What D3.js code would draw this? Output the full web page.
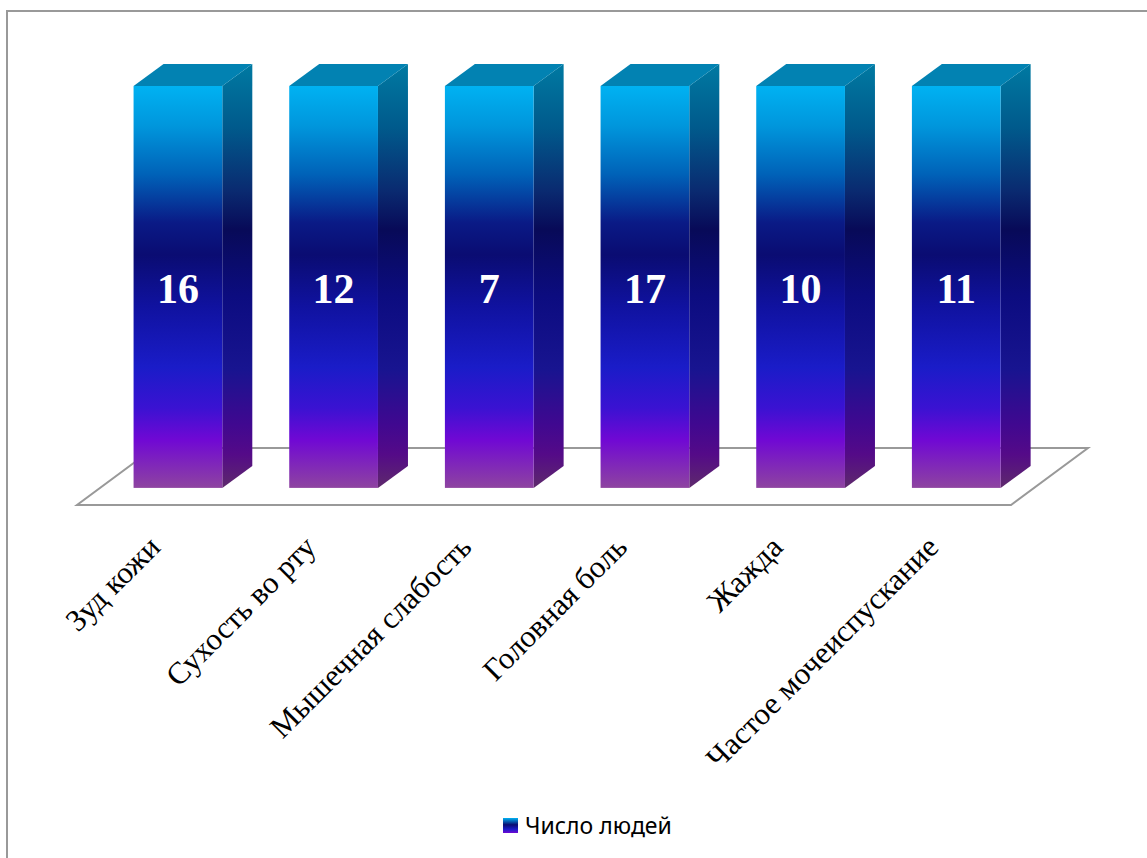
<!DOCTYPE html>
<html>
<head>
<meta charset="utf-8">
<script src="https://cdn.jsdelivr.net/npm/d3@7"></script>
<style>
  html, body { margin: 0; padding: 0; background: #fff; }
  svg { display: block; }
</style>
</head>
<body>
<svg id="chart" width="1147" height="858"></svg>
<script>
// ---- data ----
const categories = ["Зуд кожи", "Сухость во рту", "Мышечная слабость", "Головная боль", "Жажда", "Частое мочеиспускание"];
const values = [16, 12, 7, 17, 10, 11];
const seriesName = "Число людей";

// ---- layout ----
const W = 1147, H = 858;
const svg = d3.select("#chart");
const defs = svg.append("defs");

// depth of the 3D projection
const floorDX = 77, floorDY = 57;     // full floor depth
const barDX = 30, barDY = 22;         // bar depth
const frontFrac = 0.3;                // bars' front plane position within floor depth

const floorFrontY = 505, floorLeft = 77, floorRight = 1011;
const barFrontY = floorFrontY - floorDY * frontFrac;   // ~488

// 100% stacked (single series): each bar is its value share of its own total
const pct = values.map(v => v / v * 100);

const x = d3.scaleBand()
  .domain(categories)
  .range([floorLeft + floorDX * frontFrac, floorRight + floorDX * frontFrac])
  .paddingInner(0.43)
  .paddingOuter(0.215);

const y = d3.scaleLinear().domain([0, 100]).range([barFrontY, 86]);

// chart border
svg.append("path")
  .attr("d", `M7,${H + 5} L7,11 L${W + 5},11`)
  .attr("fill", "none")
  .attr("stroke", "#999")
  .attr("stroke-width", 2);

// floor
svg.append("polygon")
  .attr("points", [
    [floorLeft, floorFrontY],
    [floorRight, floorFrontY],
    [floorRight + floorDX, floorFrontY - floorDY],
    [floorLeft + floorDX, floorFrontY - floorDY]
  ].map(p => p.join(",")).join(" "))
  .attr("fill", "#fff")
  .attr("stroke", "#999")
  .attr("stroke-width", 2);

// gradients
function grad(id, y1, y2, stops) {
  const g = defs.append("linearGradient")
    .attr("id", id)
    .attr("gradientUnits", "userSpaceOnUse")
    .attr("x1", 0).attr("x2", 0).attr("y1", y1).attr("y2", y2);
  stops.forEach(([o, c]) => g.append("stop").attr("offset", o).attr("stop-color", c));
}
const topY = y(100), botY = y(0);
grad("gFront", topY, botY, [
  [0, "#00b2f2"], [0.1, "#0096dc"], [0.22, "#0062b8"],
  [0.34, "#0a1a86"], [0.42, "#0a0c72"], [0.55, "#1012a0"],
  [0.7, "#1a1cc8"], [0.8, "#3a12d2"], [0.88, "#7008d4"], [1, "#8e44a0"]
]);
grad("gSide", topY - barDY, botY, [
  [0, "#007aa2"], [0.15, "#005a8c"], [0.3, "#0a2a70"],
  [0.39, "#080a58"], [0.55, "#0c0c80"], [0.72, "#181490"],
  [0.85, "#400890"], [0.92, "#540a88"], [1, "#5e2a6c"]
]);
grad("gLegend", 0, 1, [[0, "#00b2f2"], [0.45, "#0a0c72"], [0.75, "#1a1cc8"], [1, "#7008d4"]]);
defs.select("#gLegend").attr("gradientUnits", "objectBoundingBox");

// bars
const bars = svg.append("g").selectAll("g")
  .data(categories.map((c, i) => ({ c, v: values[i], p: pct[i] })))
  .join("g");

bars.append("polygon") // side face
  .attr("points", d => {
    const x1 = x(d.c) + x.bandwidth();
    return [[x1, y(d.p)], [x1 + barDX, y(d.p) - barDY], [x1 + barDX, y(0) - barDY], [x1, y(0)]]
      .map(p => p.join(",")).join(" ");
  })
  .attr("fill", "url(#gSide)");

bars.append("polygon") // top face
  .attr("points", d => {
    const x0 = x(d.c), x1 = x0 + x.bandwidth(), yy = y(d.p);
    return [[x0, yy], [x0 + barDX, yy - barDY], [x1 + barDX, yy - barDY], [x1, yy]]
      .map(p => p.join(",")).join(" ");
  })
  .attr("fill", "#0282b2");

bars.append("rect") // front face
  .attr("x", d => x(d.c))
  .attr("y", d => y(d.p))
  .attr("width", x.bandwidth())
  .attr("height", d => y(0) - y(d.p))
  .attr("fill", "url(#gFront)");

bars.append("text") // value labels
  .attr("x", d => x(d.c) + x.bandwidth() / 2)
  .attr("y", d => y(d.p / 2) + 6)
  .attr("text-anchor", "middle")
  .attr("dominant-baseline", "middle")
  .attr("font-family", "'Liberation Serif', 'Times New Roman', serif")
  .attr("font-weight", "bold")
  .attr("font-size", 42)
  .attr("fill", "#fff")
  .text(d => d.v);

// category labels (rotated)
svg.append("g").selectAll("text")
  .data(categories)
  .join("text")
  .attr("transform", d => `translate(${x(d) + x.bandwidth() / 2 - 16},${floorFrontY + 44}) rotate(-45)`)
  .attr("text-anchor", "end")
  .attr("font-family", "'Liberation Serif', 'Times New Roman', serif")
  .attr("font-size", 31)
  .attr("fill", "#000")
  .text(d => d);

// legend
const lg = svg.append("g").attr("transform", "translate(503,818)");
lg.append("rect").attr("width", 15).attr("height", 15).attr("fill", "url(#gLegend)");
lg.append("text")
  .attr("x", 22).attr("y", 15.5)
  .attr("font-family", "'Noto Sans', 'Open Sans', sans-serif")
  .attr("font-size", 23)
  .attr("fill", "#000")
  .text(seriesName);
</script>
</body>
</html>
